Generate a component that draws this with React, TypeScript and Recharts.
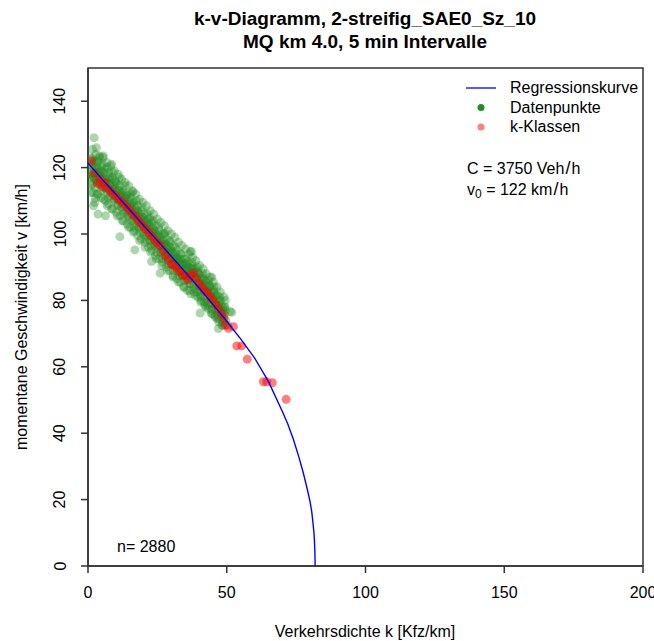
import React from 'react';
import { ComposedChart, Scatter, XAxis, YAxis, ReferenceArea } from 'recharts';

const FONT = '"Liberation Sans", Arial, sans-serif';

const xTicks = [0, 50, 100, 150, 200];
const yTicks = [0, 20, 40, 60, 80, 100, 120, 140];

// Regression curve
const curveK = [0, 5, 10, 15, 20, 25, 30, 35, 40, 45, 50, 55, 60, 65, 70, 72, 74, 76, 77.5, 79, 80, 80.6, 81, 81.4, 81.6, 81.75, 81.85];
const curveV = [121.3, 116.6, 112, 107.3, 102.6, 98, 93.3, 88.6, 83.8, 78.8, 73.7, 68.4, 62.7, 55.6, 46.6, 42.8, 38.2, 32.8, 28.3, 23.2, 19.5, 16.5, 13.6, 10.2, 7.6, 4.5, 0];

// k-Klassen (class means)
const classPoints: [number, number][] = [
  [1.2, 122], [2.2, 118.3], [3.4, 115.3], [4.3, 116.5], [5.2, 114.3], [6, 115.5], [7, 113.8], [8, 113],
  [9, 112], [10, 111.5], [11, 110.5], [12, 109.8], [13, 109], [14, 108], [15, 107.2], [16, 106],
  [17, 105.3], [18, 104.3], [19, 103.2], [20, 102.2], [21, 101.3], [22, 100.3], [23, 99.3], [24, 98.2],
  [25, 97.3], [26, 96.5], [27, 95], [28, 93.5], [29, 92.5], [30, 91], [31, 90.5], [32, 89.8],
  [33, 88.8], [34, 87.7], [35, 87.5], [36, 86.1], [37, 87.5], [38, 88.2], [39, 86.5], [40, 85.1],
  [41, 84], [42, 83], [43, 82.3], [44, 81], [45, 80.1], [46, 78.8], [47, 77.5], [48, 76],
  [49, 74.6], [49.5, 72.6], [50.6, 71.6], [52.4, 72.1], [53.6, 66.3], [55.4, 66.3], [57.4, 62.3],
  [63.2, 55.5], [64.4, 55.5], [66.4, 55.2], [71.4, 50.2],
];

// Datenpunkte (measured 5-min intervals), read approximately from the cloud
const cloudOutliers: [number, number][] = [
  [2.2, 129], [3.0, 126], [4.2, 123], [1.6, 125.5], [5.5, 123.5], [8.5, 121], [3.6, 106], [6.3, 105.5],
  [2.0, 108.5], [11.5, 99.2], [16.9, 95.2], [22.9, 91.7], [26, 88.2], [36.8, 94.7], [37.3, 94.7],
  [40.4, 76.2], [51.2, 76.6], [51.8, 76.4], [44.6, 87], [49.5, 80], [50.3, 72.5], [47, 71.5],
  [16.2, 112.7], [27.7, 100.2], [22.3, 104.8],
];

const cloudBand: [number, number][] = [
  [0.8, 118], [1.2, 115], [1.5, 120.5], [1.0, 112.5], [1.8, 117], [2.0, 121.5], [2.4, 109.5], [1.4, 122.5],
  [2.5, 114], [2.8, 118.5], [3.2, 116], [3.0, 120], [3.5, 112], [3.8, 117.5], [2.6, 110.8], [3.4, 122],
  [4.2, 115], [4.5, 119], [4.8, 113], [5.0, 117], [5.3, 121], [5.6, 110.5], [4.4, 117.8], [5.8, 115.5],
  [6.1, 118.5], [6.4, 113.5], [6.7, 116], [7.0, 120], [7.3, 111], [7.6, 115], [6.9, 108.5], [7.8, 117.2],
  [8.1, 112.5], [8.4, 116.5], [8.7, 114], [9.0, 118.5], [9.3, 110], [9.6, 113.5], [8.5, 107.5], [9.8, 116],
  [10.1, 111], [10.4, 115], [10.7, 108.5], [11.0, 113], [11.3, 117], [11.6, 110], [10.5, 105.5], [11.9, 112],
  [12.2, 108], [12.5, 112.5], [12.8, 106.5], [13.1, 110.5], [13.4, 114.5], [13.7, 108.8], [12.3, 104], [13.9, 111.5],
  [14.2, 106], [14.5, 110.5], [14.8, 104.5], [15.1, 108], [15.4, 112], [15.7, 106.8], [14.6, 102], [15.9, 109.5],
  [16.2, 104.5], [16.5, 108.5], [16.8, 102], [17.1, 106.5], [17.4, 110], [17.7, 104], [16.4, 100.5], [17.9, 107],
  [18.2, 102], [18.5, 106], [18.8, 100.5], [19.1, 104.5], [19.4, 108], [19.7, 102.8], [18.6, 98], [19.9, 105],
  [20.2, 100], [20.5, 104], [20.8, 98.5], [21.1, 102.5], [21.4, 106], [21.7, 100.5], [20.6, 96], [21.9, 103],
  [22.2, 98], [22.5, 102], [22.8, 96.5], [23.1, 100.5], [23.4, 104], [23.7, 98.5], [22.6, 94.5], [23.9, 101],
  [24.2, 96.5], [24.5, 100], [24.8, 94.5], [25.1, 98.5], [25.4, 102], [25.7, 96.5], [24.6, 92.5], [25.9, 99],
  [26.2, 94.5], [26.5, 98], [26.8, 92.5], [27.1, 96.5], [27.4, 100], [27.7, 94.5], [26.6, 90.5], [27.9, 97],
  [28.2, 92.5], [28.5, 96.5], [28.8, 91], [29.1, 94.5], [29.4, 98], [29.7, 92.5], [28.6, 89], [29.9, 95],
  [30.2, 91], [30.5, 94.5], [30.8, 89], [31.1, 92.5], [31.4, 96], [31.7, 90.5], [30.6, 87], [31.9, 93],
  [32.2, 89], [32.5, 92.5], [32.8, 87.5], [33.1, 91], [33.4, 94], [33.7, 88.8], [32.6, 85.5], [33.9, 91.5],
  [34.2, 87.5], [34.5, 91], [34.8, 86], [35.1, 89.5], [35.4, 92.5], [35.7, 87], [34.6, 84], [35.9, 90],
  [36.2, 86.5], [36.5, 90], [36.8, 85], [37.1, 88.5], [37.4, 91.5], [37.7, 86.5], [36.6, 83], [37.9, 89.5],
  [38.2, 85], [38.5, 88.5], [38.8, 83.5], [39.1, 87], [39.4, 90], [39.7, 84.5], [38.6, 81.5], [39.9, 88],
  [40.2, 83], [40.5, 86.5], [40.8, 81.5], [41.1, 85], [41.4, 88], [41.7, 82.5], [40.6, 79.5], [41.9, 86],
  [42.2, 81], [42.5, 84.5], [42.8, 79.5], [43.1, 83], [43.4, 86], [43.7, 80.5], [42.6, 78], [43.9, 84],
  [44.2, 79], [44.5, 82.5], [44.8, 77.5], [45.1, 81], [45.4, 84], [45.7, 78.5], [44.6, 76], [45.9, 81.5],
  [46.2, 77], [46.5, 80], [46.8, 75.5], [47.1, 78.5], [47.4, 81], [47.7, 76.5], [46.6, 74.5], [47.9, 78.5],
  [48.2, 75], [48.5, 77.5], [48.8, 73.5], [49.1, 76], [49.4, 78], [49.7, 74], [48.6, 72.5],
];

const cloudCore: [number, number][] = [
  [1, 121], [2, 119.5], [3, 119], [4, 118.5], [5, 117], [6, 116.5], [7, 115.5], [8, 115], [9, 113.5],
  [10, 112.5], [11, 112], [12, 111], [13, 110], [14, 109], [15, 108.5], [16, 107.5], [17, 106], [18, 105.5],
  [19, 104.5], [20, 103.5], [21, 102.5], [22, 101.5], [23, 100.5], [24, 100], [25, 99], [26, 97.5], [27, 97],
  [28, 96], [29, 95], [30, 94.5], [31, 93], [32, 92.5], [33, 91.5], [34, 90.5], [35, 89.5], [36, 89], [37, 88],
  [38, 87.5], [39, 86.5], [40, 85.5], [41, 84.5], [42, 83.5], [43, 82.5], [44, 81.5], [45, 80.5], [46, 79],
  [47, 78], [48, 77], [49, 75.5],
  [1.5, 117.5], [2.5, 116.5], [3.5, 119.5], [4.5, 115.5], [5.5, 118.5], [6.5, 114], [7.5, 116.5], [8.5, 113],
  [9.5, 114.5], [10.5, 110.5], [11.5, 113], [12.5, 109], [13.5, 111], [14.5, 107], [15.5, 109], [16.5, 105.5],
  [17.5, 107], [18.5, 103.5], [19.5, 105], [20.5, 101.5], [21.5, 103.5], [22.5, 99.5], [23.5, 101.5], [24.5, 97.5],
  [25.5, 99.5], [26.5, 95.5], [27.5, 97.5], [28.5, 94], [29.5, 96], [30.5, 92.5], [31.5, 94], [32.5, 90.5],
  [33.5, 92.5], [34.5, 89], [35.5, 91], [36.5, 87.5], [37.5, 89.5], [38.5, 86.5], [39.5, 88.5], [40.5, 84.5],
  [41.5, 86.5], [42.5, 82.5], [43.5, 84.5], [44.5, 80.5], [45.5, 82.5], [46.5, 78.5], [47.5, 80], [48.5, 76],
  [49.5, 77],
];

const cloudMid: [number, number][] = [
  [0.6, 118.5], [1.1, 123], [1.8, 117.5], [2.3, 122], [2.9, 116.5], [3.6, 121.5], [4.2, 115], [4.9, 120.5],
  [5.5, 114], [6.1, 119.5], [6.8, 112.5], [7.5, 118.5], [8.1, 111.5], [8.8, 117], [9.4, 110.5], [10.1, 115.5],
  [10.7, 109], [11.4, 114.5], [12, 108], [12.7, 113], [13.3, 106.5], [14, 112], [14.6, 105.5], [15.3, 111],
  [15.9, 104], [16.6, 109.5], [17.2, 103], [17.9, 108.5], [18.5, 102], [19.2, 107], [19.8, 100.5], [20.5, 106],
  [21.1, 99.5], [21.8, 104.5], [22.4, 98], [23.1, 103.5], [23.7, 97], [24.4, 102.5], [25, 96], [25.7, 101],
  [26.3, 94.5], [27, 100], [27.6, 93.5], [28.3, 98.5], [28.9, 92], [29.6, 97.5], [30.2, 91], [30.9, 96.5],
  [31.5, 90], [32.2, 95], [32.8, 88.5], [33.5, 94], [34.1, 87.5], [34.8, 92.5], [35.4, 86.5], [36.1, 91.5],
  [36.7, 85], [37.4, 90.5], [38, 84], [38.7, 89.5], [39.3, 82.5], [40, 88], [40.6, 81], [41.3, 87],
  [41.9, 79.5], [42.6, 85.5], [43.2, 78.5], [43.9, 84.5], [44.5, 77], [45.2, 83], [45.8, 75.5], [46.5, 81.5],
  [47.1, 74.5], [47.8, 80], [48.4, 73.5], [49.1, 78],
];

const cloudWide: [number, number][] = [
  [1.3, 115], [1.9, 112.5], [2.7, 124], [3.3, 112], [4.1, 123.5], [4.7, 111], [5.4, 123], [6.2, 110],
  [6.8, 121.5], [7.4, 109], [8.2, 120.5], [8.9, 107.5], [9.5, 119], [10.2, 106.5], [10.9, 118], [11.5, 105.5],
  [12.1, 116.5], [12.8, 104], [13.4, 115.5], [14.1, 103], [14.7, 114.5], [15.3, 102], [16, 113], [16.6, 101],
  [17.2, 112], [17.9, 99.5], [18.5, 110.5], [19.2, 98.5], [19.8, 109.5], [20.5, 97.5], [21.1, 108.5], [21.8, 96],
  [22.4, 107], [23, 95], [23.7, 106], [24.3, 93.5], [25, 104.5], [25.6, 92.5], [26.3, 103.5], [26.9, 91.5],
  [27.5, 102.5], [28.2, 90], [28.8, 101], [29.4, 89], [30.1, 100], [30.7, 87.5], [31.3, 99], [32, 86.5],
  [32.6, 97.5], [33.3, 85.5], [33.9, 96.5], [34.5, 84], [35.2, 95.5], [35.8, 83], [36.4, 94], [37, 82],
  [37.7, 93], [38.3, 82.5], [38.9, 92], [39.6, 81], [40.2, 90.5], [40.8, 80], [41.5, 89.5], [42.1, 78.5],
  [42.7, 88], [43.3, 77.5], [44, 87], [44.6, 76], [45.2, 85.5], [45.9, 75], [46.5, 84], [47.1, 73.5],
  [47.7, 82.5], [48.3, 72.5], [49, 81],
];

const toObj = (arr: [number, number][]) => arr.map(([k, v]) => ({ k, v }));
const curveData = curveK.map((k, i) => ({ k, v: curveV[i] }));
const cloudData = toObj([...cloudOutliers, ...cloudWide, ...cloudBand, ...cloudMid, ...cloudCore]);
const classData = toObj(classPoints);

const XTick = (props: any) => {
  const { x, payload } = props;
  return (
    <text x={x} y={592} textAnchor="middle" dominantBaseline="central" fontSize={16} fontFamily={FONT} fill="#000">
      {payload.value}
    </text>
  );
};

const YTick = (props: any) => {
  const { y, payload } = props;
  return (
    <text x={60} y={y} transform={`rotate(-90 60 ${y})`} textAnchor="middle" dominantBaseline="central"
      fontSize={16} fontFamily={FONT} fill="#000">
      {payload.value}
    </text>
  );
};

const GreenDot = (props: any) => (
  <circle cx={props.cx} cy={props.cy} r={4.5} fill="#228B22" fillOpacity={0.36} />
);
const RedDot = (props: any) => (
  <circle cx={props.cx} cy={props.cy} r={4.5} fill="#FF0000" fillOpacity={0.5} />
);
const NoDot = () => <g />;

const abs = (extra: React.CSSProperties): React.CSSProperties => ({
  position: 'absolute',
  fontFamily: FONT,
  color: '#000',
  whiteSpace: 'nowrap',
  ...extra,
});

export default function App() {
  return (
    <div style={{ position: 'absolute', left: 0, top: 0, width: 654, height: 641, background: '#fff', overflow: 'hidden' }}>
      <ComposedChart width={654} height={641} margin={{ top: 68, right: 11, bottom: 30, left: 28 }}>
        <XAxis type="number" dataKey="k" domain={[0, 200]} ticks={xTicks} allowDataOverflow
          height={45} tickSize={7} tick={<XTick />} interval={0}
          axisLine={{ stroke: '#333', strokeWidth: 1.5 }} tickLine={{ stroke: '#333', strokeWidth: 1.5 }} />
        <YAxis type="number" dataKey="v" domain={[0, 150]} ticks={yTicks} allowDataOverflow
          width={60} tickSize={7} tick={<YTick />} interval={0}
          axisLine={{ stroke: '#333', strokeWidth: 1.5 }} tickLine={{ stroke: '#333', strokeWidth: 1.5 }} />
        <Scatter data={cloudData} dataKey="v" shape={<GreenDot />} isAnimationActive={false} />
        <Scatter data={classData} dataKey="v" shape={<RedDot />} isAnimationActive={false} />
        <Scatter data={curveData} dataKey="v" shape={<NoDot />} line={{ stroke: '#0000FF', strokeWidth: 1.4, fill: 'none' }}
          lineType="joint" isAnimationActive={false} />
        <ReferenceArea x1={0} x2={200} y1={0} y2={150} fill="none" fillOpacity={0} stroke="#333" strokeWidth={1.5} />
      </ComposedChart>

      <div style={abs({ left: 165, width: 400, top: 7, textAlign: 'center', fontSize: 19, fontWeight: 'bold', lineHeight: '24px' })}>
        k-v-Diagramm, 2-streifig_SAE0_Sz_10
      </div>
      <div style={abs({ left: 165, width: 400, top: 30, textAlign: 'center', fontSize: 19, fontWeight: 'bold', lineHeight: '24px' })}>
        MQ km 4.0, 5 min Intervalle
      </div>

      <svg style={{ position: 'absolute', left: 0, top: 0 }} width={654} height={641} pointerEvents="none">
        <line x1={466} x2={496} y1={88} y2={88} stroke="#0000FF" strokeWidth={1.3} />
        <circle cx={481} cy={107.5} r={3.5} fill="#228B22" />
        <circle cx={481} cy={127} r={3.5} fill="#FF8080" />
      </svg>
      <div style={abs({ left: 510, top: 78, fontSize: 16, lineHeight: '20px' })}>Regressionskurve</div>
      <div style={abs({ left: 510, top: 97.5, fontSize: 16, lineHeight: '20px' })}>Datenpunkte</div>
      <div style={abs({ left: 510, top: 117, fontSize: 16, lineHeight: '20px' })}>k-Klassen</div>

      <div style={abs({ left: 467, top: 158, fontSize: 16, lineHeight: '20px' })}>
        C = 3750 Veh<span style={{ margin: '0 1px', fontSize: 18 }}>/</span>h
      </div>
      <div style={abs({ left: 467, top: 179, fontSize: 16, lineHeight: '20px' })}>
        v<sub style={{ fontSize: 12, verticalAlign: '-3px' }}>0</sub> = 122 km<span style={{ margin: '0 1px', fontSize: 18 }}>/</span>h
      </div>

      <div style={abs({ left: 117, top: 537, fontSize: 16, lineHeight: '20px' })}>n= 2880</div>

      <div style={abs({ left: 165, width: 400, top: 622, textAlign: 'center', fontSize: 16, lineHeight: '20px' })}>
        Verkehrsdichte k [Kfz/km]
      </div>
      <div style={abs({ left: 22 - 200, width: 400, top: 317 - 10, textAlign: 'center', fontSize: 16, lineHeight: '20px', transform: 'rotate(-90deg)', transformOrigin: '200px 10px' })}>
        momentane Geschwindigkeit v [km/h]
      </div>
    </div>
  );
}
